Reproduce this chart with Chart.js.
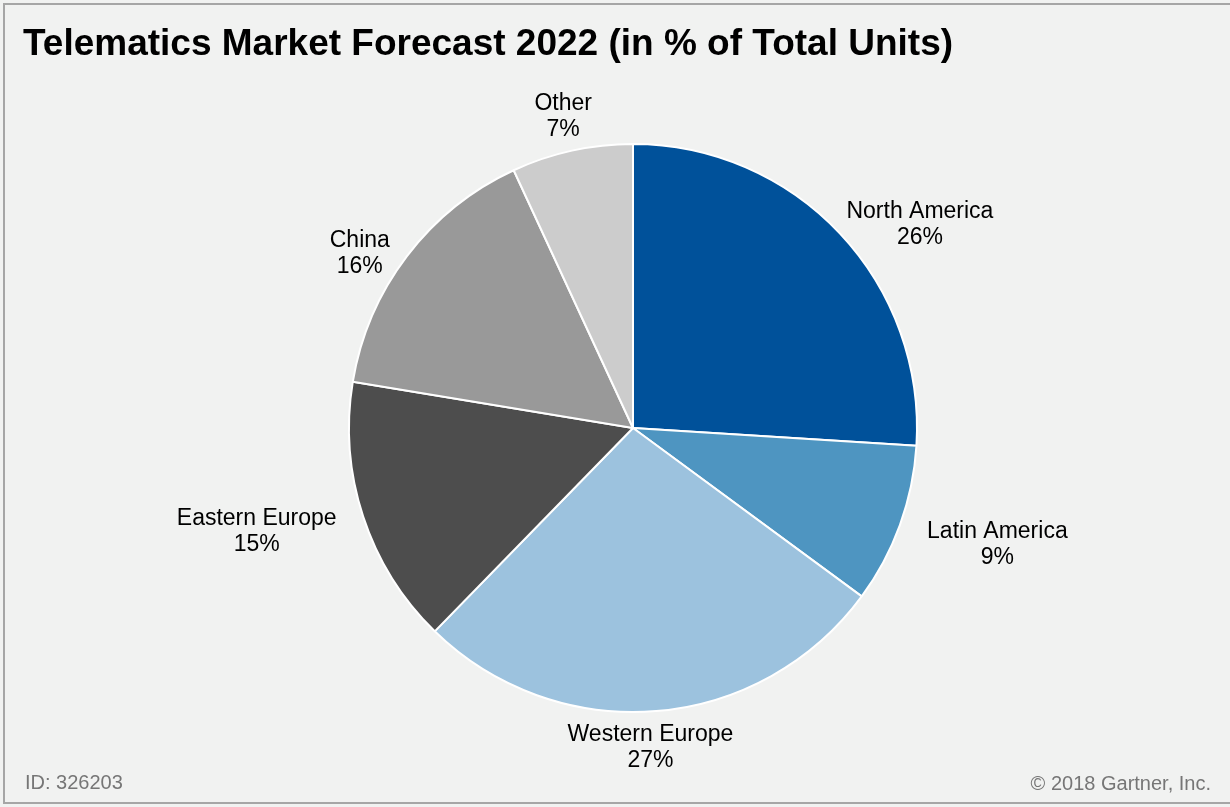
<!DOCTYPE html>
<html>
<head>
<meta charset="utf-8">
<title>Telematics Market Forecast 2022</title>
<script src="https://cdn.jsdelivr.net/npm/chart.js@4/dist/chart.umd.min.js"></script>
<style>
  html, body { margin: 0; padding: 0; background: #f1f2f1; }
  #wrap { width: 1230px; height: 807px; }
</style>
</head>
<body>
<div id="wrap"><canvas id="pie" width="1230" height="807"></canvas></div>
<script>
// Chart data (slice sizes, labels show rounded %)
const regions = ['North America', 'Latin America', 'Western Europe', 'Eastern Europe', 'China', 'Other'];
const shares = [26.0, 9.1, 27.2, 15.3, 15.5, 6.9];
const sliceColors = ['#00519a', '#4e95c1', '#9cc2de', '#4d4d4d', '#999999', '#cccccc'];

const titleText = 'Telematics Market Forecast 2022 (in % of Total Units)';
const footLeft = 'ID: 326203';
const footRight = '\u00a9 2018 Gartner, Inc.';

// small hand tweaks so labels sit where Excel put them (pixels)
const labelNudge = [[42, 24], [14, -13], [-9, -6], [-14, -17], [-6, 27], [0, 4]];

const FONT = '"Liberation Sans", Arial, sans-serif';

// Background, frame, title and footer
const framePlugin = {
    id: 'frame',
    beforeDraw(chart) {
        const ctx = chart.ctx;
        ctx.save();
        ctx.fillStyle = '#f1f2f1';
        ctx.fillRect(0, 0, chart.width, chart.height);
        ctx.strokeStyle = '#a6a6a6';
        ctx.lineWidth = 2;
        ctx.strokeRect(4, 4, chart.width + 10, chart.height - 8);
        ctx.fillStyle = '#000000';
        ctx.font = 'bold 37px ' + FONT;
        ctx.textAlign = 'left';
        ctx.textBaseline = 'alphabetic';
        ctx.fillText(titleText, 23, 55);
        ctx.fillStyle = '#767676';
        ctx.font = '20px ' + FONT;
        ctx.fillText(footLeft, 25, 789);
        ctx.textAlign = 'right';
        ctx.fillText(footRight, 1211, 790);
        ctx.restore();
    }
};

// Outside-end data labels: name on first line, percent below
const outsideLabels = {
    id: 'outsideLabels',
    afterDatasetsDraw(chart) {
        const ctx = chart.ctx;
        const meta = chart.getDatasetMeta(0);
        ctx.save();
        ctx.font = '23px ' + FONT;
        ctx.fillStyle = '#000000';
        ctx.textAlign = 'center';
        ctx.textBaseline = 'alphabetic';
        meta.data.forEach((arc, i) => {
            const mid = (arc.startAngle + arc.endAngle) / 2;
            const dx = Math.cos(mid), dy = Math.sin(mid);
            const line1 = regions[i];
            const line2 = Math.round(shares[i]) + '%';
            const halfW = Math.max(ctx.measureText(line1).width, ctx.measureText(line2).width) / 2;
            const halfH = 26;
            const t = Math.min(Math.abs(dx) > 1e-6 ? halfW / Math.abs(dx) : 1e9,
                               Math.abs(dy) > 1e-6 ? halfH / Math.abs(dy) : 1e9);
            const d = arc.outerRadius + 14 + t;
            const cx = arc.x + dx * d + labelNudge[i][0];
            const cy = arc.y + dy * d + labelNudge[i][1];
            ctx.fillText(line1, cx, cy - 4.5);
            ctx.fillText(line2, cx, cy + 21.5);
        });
        ctx.restore();
    }
};

const ctx = document.getElementById('pie').getContext('2d');
new Chart(ctx, {
    type: 'pie',
    data: {
        labels: regions,
        datasets: [{
            data: shares,
            backgroundColor: sliceColors,
            borderColor: '#ffffff',
            borderWidth: 2,
        }]
    },
    options: {
        responsive: false,
        animation: false,
        layout: {
            padding: { left: 348, right: 312, top: 143, bottom: 94 }
        },
        plugins: {
            legend: { display: false },
            tooltip: { enabled: false },
        },
    },
    plugins: [framePlugin, outsideLabels]
});
</script>
</body>
</html>
